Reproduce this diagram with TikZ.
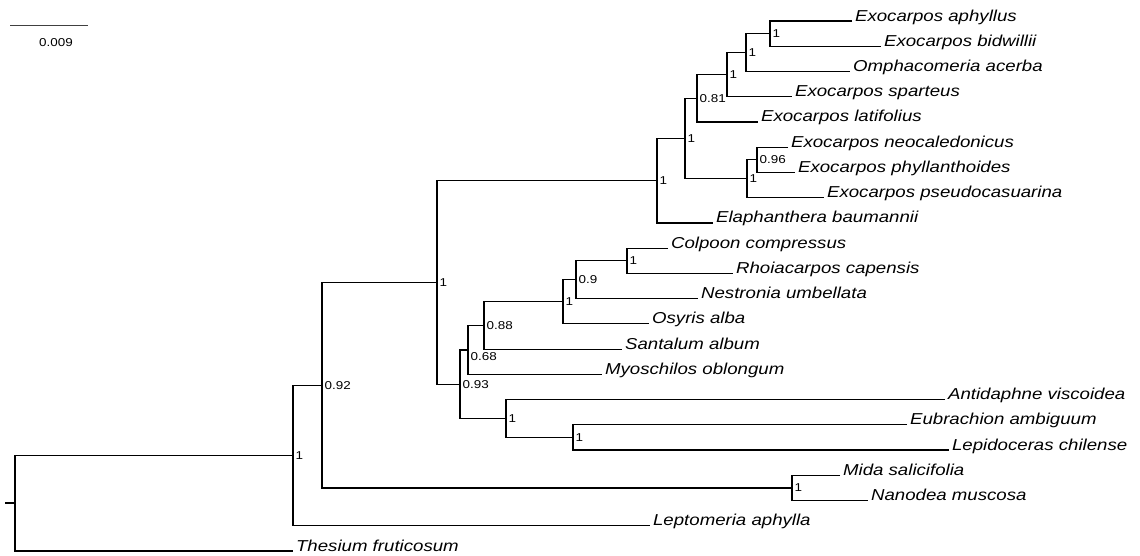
\documentclass[tikz,border=0pt]{standalone}
\usepackage{fontspec}
\setmainfont{Liberation Sans}[FakeStretch=1.18]
\begin{document}
\begin{tikzpicture}[x=1pt,y=-25.24pt,line width=1.2pt,
	tip/.style={anchor=base west,inner xsep=2.5pt,inner ysep=0pt,
		font=\fontsize{15.8}{18}\selectfont\itshape},
	prob/.style={anchor=west,inner xsep=2pt,inner ysep=0pt,
		font=\fontsize{11.4}{13}\selectfont}]
\useasboundingbox (0pt,0pt) rectangle (1140pt,-555pt);
\begin{scope}[yshift=4.24pt]
	% Draw taxa
	\foreach \x/\r/\n/\t in
       {852/1/aph/Exocarpos aphyllus,881/2/bid/Exocarpos bidwillii,
        850/3/omp/Omphacomeria acerba,792/4/spa/Exocarpos sparteus,
        758/5/lat/Exocarpos latifolius,788/6/neo/Exocarpos neocaledonicus,
        795/7/phy/Exocarpos phyllanthoides,824/8/pse/Exocarpos pseudocasuarina,
        713/9/ela/Elaphanthera baumannii,668/10/col/Colpoon compressus,
        733/11/rho/Rhoiacarpos capensis,698/12/nes/Nestronia umbellata,
        649/13/osy/Osyris alba,622/14/san/Santalum album,
        602/15/myo/Myoschilos oblongum,945/16/ant/Antidaphne viscoidea,
        907/17/eub/Eubrachion ambiguum,949/18/lep/Lepidoceras chilense,
        840/19/mid/Mida salicifolia,868/20/nan/Nanodea muscosa,
        650/21/lpt/Leptomeria aphylla,293/22/the/Thesium fruticosum} {
		\coordinate (\n) at (\x,\r);
		\node[tip] (\n-l) at (\n) {\t};
	}
	% Draw splits and their support
	\foreach \x/\r/\n/\p in
       {770/1.5/n1/1,746/2.25/n2/1,727/3.125/n3/1,697/4.0625/n4/0.81,
        757/6.5/n5/0.96,747/7.25/n6/1,685/5.65625/n7/1,657/7.328/n8/1,
        627/10.5/n9/1,576/11.25/n10/0.9,563/12.125/n11/1,484/13.0625/n12/0.88,
        573/17.5/n14/1,506/16.75/n15/1,460/15.39/n16/0.93,437/11.36/n17/1,
        792/19.5/n18/1,322/15.43/n19/0.92,293/18.21/n20/1} {
		\coordinate (\n) at (\x,\r);
		\node[prob] (\n-l) at (\n) {\p};
	}
	\coordinate (n13) at (468,14.031);
	\node[prob] (n13-l) at (468,14.3) {0.68};
	\coordinate (root) at (15,20.1);
	\coordinate (stem) at (5,20.1);
	% Draw branches
	\foreach \n/\a/\b in
       {n1/aph/bid,n2/n1/omp,n3/n2/spa,n4/n3/lat,n5/neo/phy,n6/n5/pse,
        n7/n4/n6,n8/n7/ela,n9/col/rho,n10/n9/nes,n11/n10/osy,n12/n11/san,
        n13/n12/myo,n14/eub/lep,n15/ant/n14,n16/n13/n15,n17/n8/n16,
        n18/mid/nan,n19/n17/n18,n20/n19/lpt,root/n20/the}
		\draw (\a) -| (\n) |- (\b);
	\draw (stem) -- (root);
	% Draw scale bar
	\coordinate (s0) at (10,1.178);
	\coordinate (s1) at (88,1.178);
	\draw[black!75] (s0) -- (s1);
	\node[prob,anchor=center] (scale) at (56,1.852) {0.009};
\end{scope}
\end{tikzpicture}
\end{document}
